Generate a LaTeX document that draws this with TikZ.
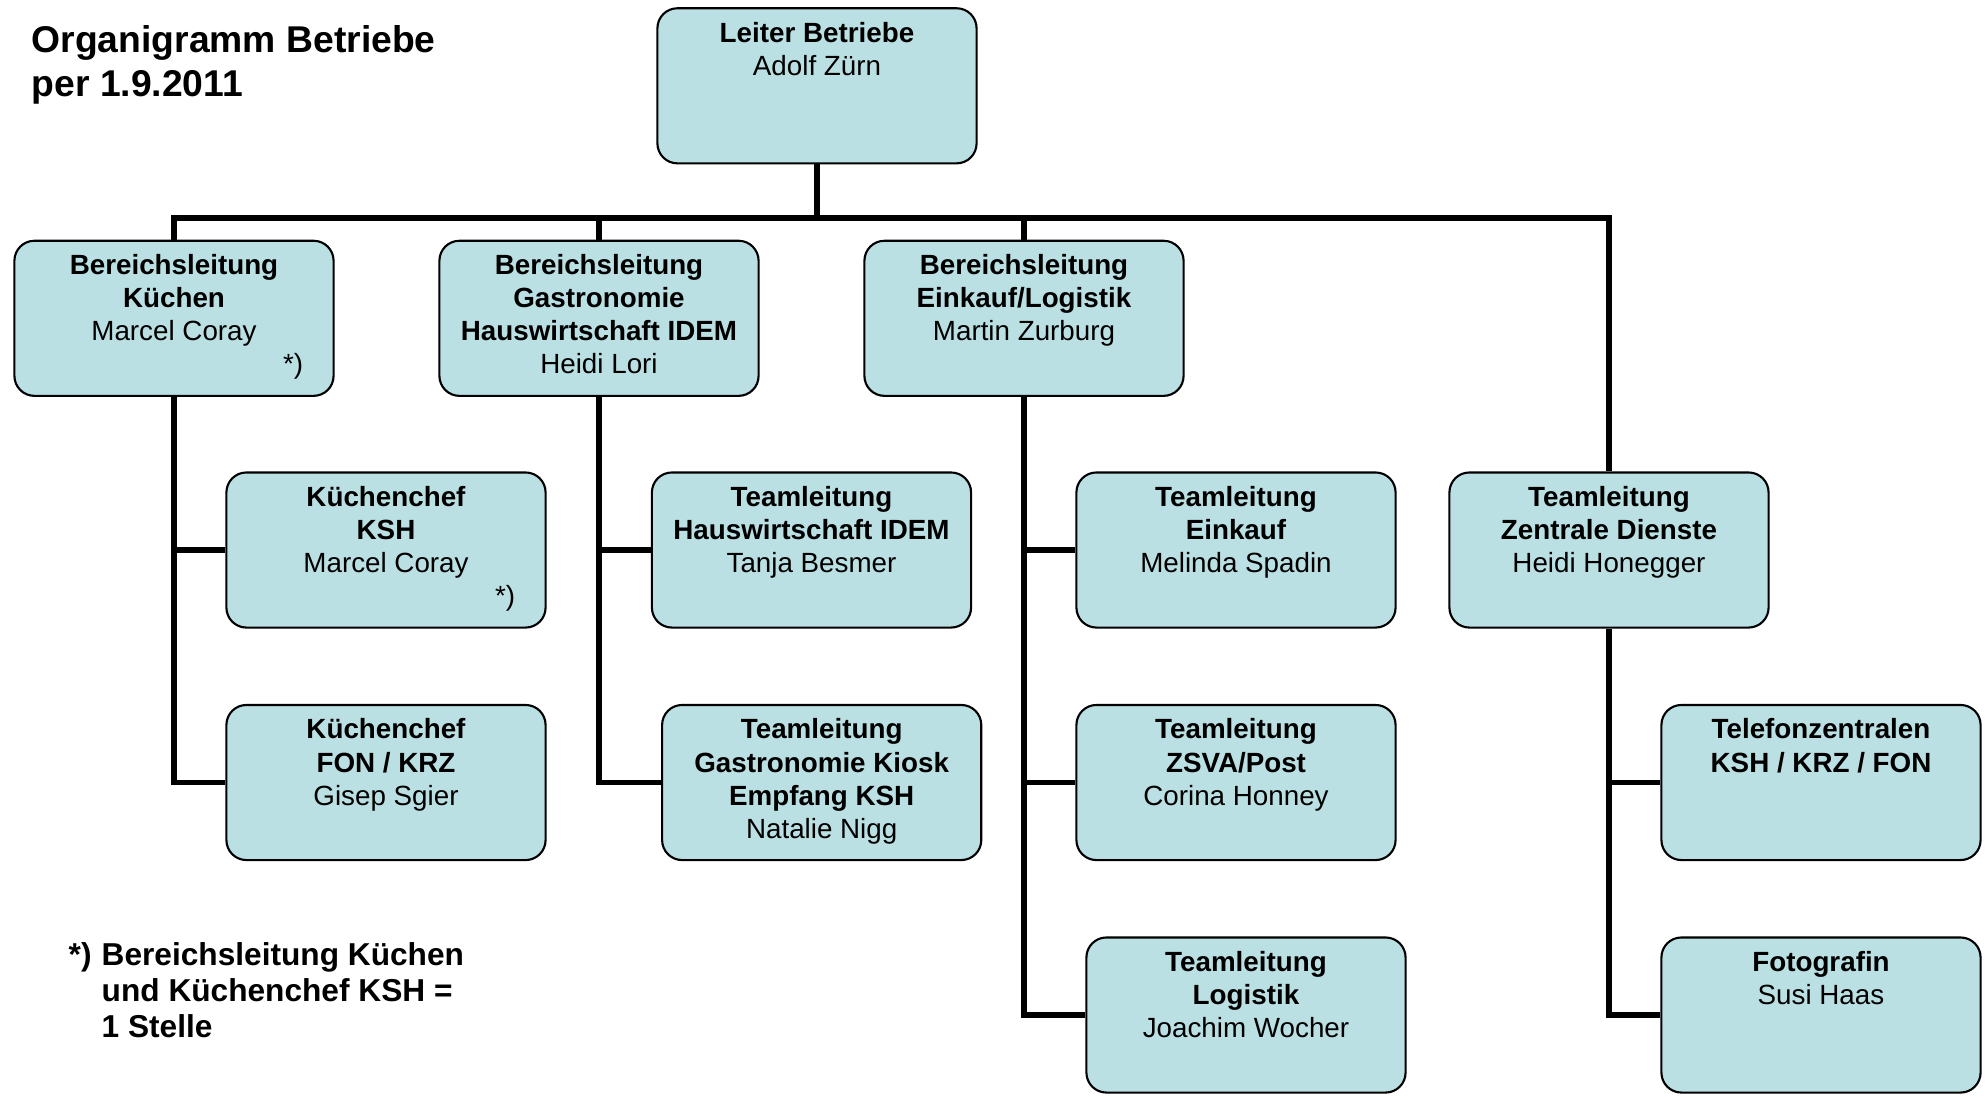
\documentclass[tikz,border=0pt]{standalone}
\usepackage{fontspec}
\setmainfont{Liberation Sans}
\usepackage{tikz}
\definecolor{orgblue}{RGB}{187,224,227}
\newcommand{\orgtext}[1]{\parbox[c][1.43cm][t]{3.1cm}{\centering\rule{0pt}{0.28cm}#1}}
\newcommand{\starmark}{\hfill*)\kern0.26cm}

\begin{document}
\begin{tikzpicture}[x=0.01cm,y=-0.01cm,
  orgbox/.style={draw,line width=0.6pt,rounded corners=0.2cm,fill=orgblue,minimum width=3.19cm,minimum height=1.55cm,inner sep=0pt,font=\fontsize{7.9}{9.4}\selectfont},
  orgline/.style={line width=1.6pt}]
\useasboundingbox (0,0) rectangle (1987,1096);
\node[anchor=base west,inner sep=0pt,align=left,font=\fontsize{10.6}{12.5}\selectfont\bfseries] (title) at (31,96.7) {Organigramm Betriebe\\per 1.9.2011};
\node[orgbox] (top) at (817,85.8) {\orgtext{\textbf{Leiter Betriebe}\\Adolf Zürn}};
\node[orgbox] (b1) at (174,318.3) {\orgtext{\textbf{Bereichsleitung}\\\textbf{Küchen}\\Marcel Coray\\\starmark}};
\node[orgbox] (b2) at (599,318.3) {\orgtext{\textbf{Bereichsleitung}\\\textbf{Gastronomie}\\\textbf{Hauswirtschaft IDEM}\\Heidi Lori}};
\node[orgbox] (b3) at (1024,318.3) {\orgtext{\textbf{Bereichsleitung}\\\textbf{Einkauf/Logistik}\\Martin Zurburg}};
\node[orgbox] (zd) at (1609,550) {\orgtext{\textbf{Teamleitung}\\\textbf{Zentrale Dienste}\\Heidi Honegger}};
\node[orgbox] (k1) at (386,550) {\orgtext{\textbf{Küchenchef}\\\textbf{KSH}\\Marcel Coray\\\starmark}};
\node[orgbox] (k2) at (386,782.5) {\orgtext{\textbf{Küchenchef}\\\textbf{FON / KRZ}\\Gisep Sgier}};
\node[orgbox] (h1) at (811.5,550) {\orgtext{\textbf{Teamleitung}\\\textbf{Hauswirtschaft IDEM}\\Tanja Besmer}};
\node[orgbox] (h2) at (821.7,782.5) {\orgtext{\textbf{Teamleitung}\\\textbf{Gastronomie Kiosk}\\\textbf{Empfang KSH}\\Natalie Nigg}};
\node[orgbox] (e1) at (1236,550) {\orgtext{\textbf{Teamleitung}\\\textbf{Einkauf}\\Melinda Spadin}};
\node[orgbox] (e2) at (1236,782.5) {\orgtext{\textbf{Teamleitung}\\\textbf{ZSVA/Post}\\Corina Honney}};
\node[orgbox] (e3) at (1246,1015) {\orgtext{\textbf{Teamleitung}\\\textbf{Logistik}\\Joachim Wocher}};
\node[orgbox] (t1) at (1821,782.5) {\orgtext{\textbf{Telefonzentralen}\\\textbf{KSH / KRZ / FON}}};
\node[orgbox] (t2) at (1821,1015) {\orgtext{\textbf{Fotografin}\\Susi Haas}};
\node[anchor=base west,inner sep=0pt,align=left,font=\fontsize{9}{10.2}\selectfont\bfseries] (note) at (68,1037) {\makebox[0.33cm][l]{*)}Bereichsleitung Küchen\\\hspace*{0.33cm}und Küchenchef KSH =\\\hspace*{0.33cm}1 Stelle};
\coordinate (bus) at (0,218.3);
\draw[orgline] (top.south) -- (top.south |- bus);
\foreach \n in {b1,b2,b3,zd}
  \draw[orgline] (top.south |- bus) -| (\n.north);
\draw[orgline] (b1.south) |- (k1.west);
\draw[orgline] (b1.south) |- (k2.west);
\draw[orgline] (b2.south) |- (h1.west);
\draw[orgline] (b2.south) |- (h2.west);
\draw[orgline] (b3.south) |- (e1.west);
\draw[orgline] (b3.south) |- (e2.west);
\draw[orgline] (b3.south) |- (e3.west);
\draw[orgline] (zd.south) |- (t1.west);
\draw[orgline] (zd.south) |- (t2.west);
\end{tikzpicture}
\end{document}
